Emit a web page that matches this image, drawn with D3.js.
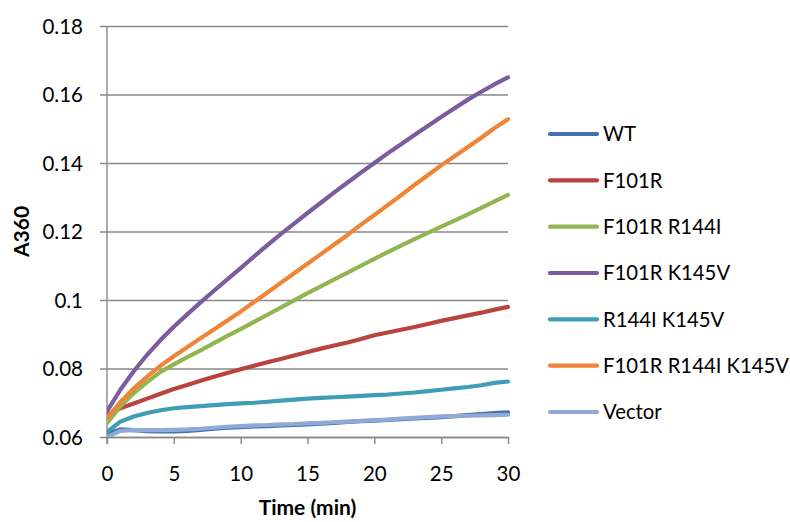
<!DOCTYPE html>
<html>
<head>
<meta charset="utf-8">
<script src="https://cdn.jsdelivr.net/npm/d3@7"></script>
<style>
  html, body { margin: 0; padding: 0; background: #fff; }
  svg { display: block; }
  text { font-family: Lato, "Open Sans", sans-serif; fill: #000; }
</style>
</head>
<body>
<svg id="chart" width="790" height="522"></svg>
<script>
// Time points (min)
const times = d3.range(0, 31);

// Absorbance at 360 nm for each construct, one reading per minute
const wt      = [0.0610,0.0622,0.0620,0.0617,0.0616,0.0616,0.0618,0.0621,0.0624,0.0627,0.0629,0.0631,0.0632,0.0634,0.0635,0.0637,0.0639,0.0641,0.0644,0.0646,0.0648,0.0650,0.0652,0.0654,0.0656,0.0658,0.0661,0.0664,0.0667,0.0670,0.0672];
const f101r   = [0.0662,0.0684,0.0698,0.0712,0.0726,0.0740,0.0752,0.0764,0.0776,0.0787,0.0798,0.0808,0.0818,0.0828,0.0838,0.0848,0.0858,0.0867,0.0876,0.0886,0.0897,0.0905,0.0913,0.0921,0.0930,0.0939,0.0947,0.0955,0.0963,0.0972,0.0980];
const f101rR144i = [0.0640,0.0690,0.0728,0.0760,0.0790,0.0812,0.0833,0.0853,0.0874,0.0895,0.0915,0.0936,0.0957,0.0978,0.0999,0.1020,0.1040,0.1060,0.1080,0.1100,0.1120,0.1140,0.1159,0.1178,0.1196,0.1214,0.1232,0.1250,0.1269,0.1288,0.1307];
const f101rK145v = [0.0675,0.0738,0.0792,0.0840,0.0883,0.0922,0.0958,0.0993,0.1027,0.1060,0.1093,0.1127,0.1160,0.1192,0.1223,0.1254,0.1284,0.1314,0.1343,0.1372,0.1400,0.1428,0.1455,0.1482,0.1508,0.1534,0.1560,0.1585,0.1608,0.1630,0.1650];
const r144iK145v = [0.0615,0.0645,0.0660,0.0670,0.0678,0.0684,0.0687,0.0690,0.0693,0.0696,0.0698,0.0700,0.0703,0.0706,0.0709,0.0712,0.0714,0.0716,0.0718,0.0720,0.0722,0.0724,0.0727,0.0730,0.0734,0.0738,0.0742,0.0746,0.0751,0.0758,0.0762];
const triple  = [0.0655,0.0702,0.0742,0.0776,0.0808,0.0836,0.0862,0.0888,0.0914,0.0940,0.0966,0.0994,0.1022,0.1050,0.1078,0.1106,0.1134,0.1162,0.1190,0.1220,0.1248,0.1277,0.1306,0.1336,0.1364,0.1393,0.1420,0.1447,0.1474,0.1502,0.1528];
const vector  = [0.0600,0.0618,0.0620,0.0620,0.0620,0.0621,0.0622,0.0624,0.0627,0.0630,0.0632,0.0634,0.0635,0.0637,0.0638,0.0640,0.0641,0.0643,0.0645,0.0647,0.0649,0.0651,0.0654,0.0656,0.0658,0.0660,0.0661,0.0662,0.0663,0.0664,0.0665];

const seriesNames = ["WT", "F101R", "F101R R144I", "F101R K145V", "R144I K145V", "F101R R144I K145V", "Vector"];
const seriesValues = [wt, f101r, f101rR144i, f101rK145v, r144iK145v, triple, vector];
const seriesColors = ["#4170AC", "#B9433F", "#92B552", "#7A5C9F", "#3F9DB5", "#EE8537", "#90A9D5"];

const xTicks = [0, 5, 10, 15, 20, 25, 30];
const yTicks = [0.06, 0.08, 0.1, 0.12, 0.14, 0.16, 0.18];
const yTickLabels = ["0.06", "0.08", "0.1", "0.12", "0.14", "0.16", "0.18"];

const svg = d3.select("#chart");
const plot = { left: 107, right: 508, top: 26, bottom: 437 };
const labelFont = "Lato, 'Open Sans', sans-serif";

const x = d3.scaleLinear().domain([0, 30]).range([plot.left, plot.right]);
const y = d3.scaleLinear().domain([0.06, 0.18]).range([plot.bottom, plot.top]);

const gridColor = "#898989";

// Horizontal gridlines with the y axis ticks
const yAxis = d3.axisLeft(y).tickValues(yTicks)
  .tickSize(-(plot.right - plot.left))
  .tickFormat((d, i) => yTickLabels[i]);
const gy = svg.append("g").attr("transform", `translate(${plot.left},0)`).call(yAxis);
gy.select(".domain").remove();
gy.selectAll(".tick line").attr("stroke", gridColor).attr("stroke-width", 1.4).attr("x1", -7);
gy.selectAll(".tick text").attr("x", -24).attr("dy", "0.35em")
  .style("font-size", "20.5px").style("font-family", labelFont).attr("fill", "#000");

// X axis with outward ticks
const xAxis = d3.axisBottom(x).tickValues(xTicks).tickSize(7).tickSizeOuter(0);
const gx = svg.append("g").attr("transform", `translate(0,${plot.bottom})`).call(xAxis);
gx.select(".domain").attr("stroke", gridColor).attr("stroke-width", 1.4);
gx.selectAll(".tick line").attr("stroke", gridColor).attr("stroke-width", 1.4);
gx.selectAll(".tick text").attr("y", 37).attr("dy", "0.35em")
  .style("font-size", "20.5px").style("font-family", labelFont).attr("fill", "#000");

// Vertical axis line
svg.append("line")
  .attr("x1", plot.left).attr("x2", plot.left)
  .attr("y1", plot.top).attr("y2", plot.bottom + 7)
  .attr("stroke", gridColor).attr("stroke-width", 1.4);

// Data lines, clipped to the plot area
svg.append("clipPath").attr("id", "plotClip").append("rect")
  .attr("x", plot.left).attr("y", plot.top - 10)
  .attr("width", plot.right - plot.left + 10).attr("height", plot.bottom - plot.top + 10);

const line = d3.line().x((d, i) => x(times[i])).y(d => y(d));
svg.append("g").attr("clip-path", "url(#plotClip)")
  .selectAll("path").data(seriesValues).join("path")
  .attr("d", line)
  .attr("fill", "none")
  .attr("stroke", (d, i) => seriesColors[i])
  .attr("stroke-width", 4.2)
  .attr("stroke-linejoin", "round")
  .attr("stroke-linecap", "round");

// Axis titles
svg.append("text")
  .attr("x", x(15)).attr("y", 515)
  .attr("text-anchor", "middle")
  .style("font-size", "21px").style("font-weight", "bold")
  .text("Time (min)");

svg.append("text")
  .attr("transform", `translate(29,${y(0.12)}) rotate(-90)`)
  .attr("text-anchor", "middle")
  .style("font-size", "21px").style("font-weight", "bold")
  .text("A360");

// Legend
const legendY = d3.scalePoint().domain(seriesNames).range([134, 412]);
const legend = svg.append("g").selectAll("g").data(seriesNames).join("g")
  .attr("transform", d => `translate(550,${legendY(d)})`);
legend.append("line")
  .attr("x1", 0).attr("x2", 47)
  .attr("stroke", (d, i) => seriesColors[i])
  .attr("stroke-width", 4.2)
  .attr("stroke-linecap", "round");
legend.append("text")
  .attr("x", 53).attr("dy", "0.36em")
  .style("font-size", "20.3px")
  .text(d => d);
</script>
</body>
</html>
